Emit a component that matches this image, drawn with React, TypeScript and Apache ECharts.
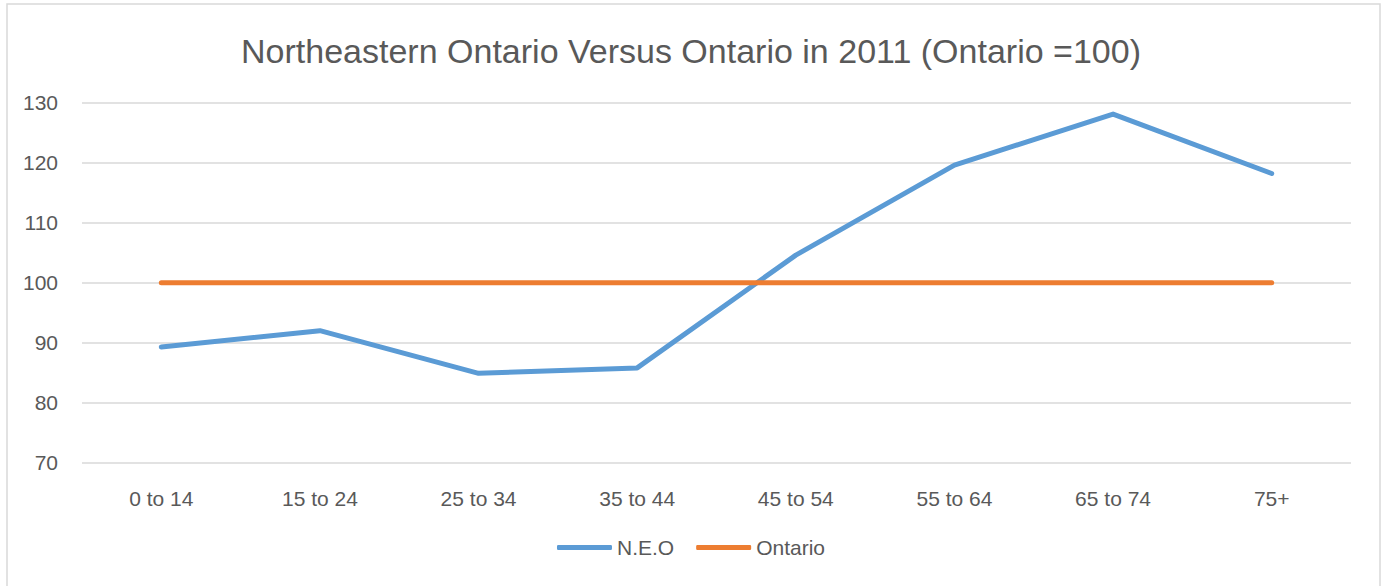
import React, { useEffect, useRef } from "react";
import * as echarts from "echarts";

const categories = ["0 to 14", "15 to 24", "25 to 34", "35 to 44", "45 to 54", "55 to 64", "65 to 74", "75+"];
const neoValues = [89.3, 92.0, 84.9, 85.8, 104.6, 119.6, 128.1, 118.2];
const ontarioValues = [100, 100, 100, 100, 100, 100, 100, 100];
const seriesNames = ["N.E.O", "Ontario"];
const titleText = "Northeastern Ontario Versus Ontario in 2011 (Ontario =100)";

export default function App() {
  const ref = useRef<HTMLDivElement>(null);
  useEffect(() => {
    document.body.style.margin = "0";
    if (!ref.current) return;
    const chart = echarts.init(ref.current, null, { renderer: "svg" });
    const font = "'Liberation Sans', Arial, sans-serif";
    const textColor = "#595959";
    chart.setOption({
      animation: false,
      backgroundColor: "#ffffff",
      textStyle: { fontFamily: font },
      title: {
        text: titleText,
        left: "center",
        top: 29,
        textStyle: { fontFamily: font, fontSize: 34, fontWeight: "normal", color: textColor },
      },
      graphic: [
        {
          type: "rect",
          shape: { x: 7, y: 4, width: 1373, height: 590 },
          style: { fill: "none", stroke: "#d9d9d9", lineWidth: 1.5 },
          silent: true,
        },
      ],
      grid: { left: 82, right: 31, top: 102.7, bottom: 123.3, containLabel: false },
      legend: {
        data: seriesNames,
        bottom: 23,
        left: "center",
        icon: "roundRect",
        itemWidth: 55,
        itemHeight: 5,
        itemGap: 22,
        textStyle: { fontFamily: font, fontSize: 21, color: textColor },
      },
      xAxis: {
        type: "category",
        data: categories,
        boundaryGap: true,
        axisLine: { show: false },
        axisTick: { show: false },
        axisLabel: { fontFamily: font, fontSize: 21, color: textColor, margin: 25 },
      },
      yAxis: {
        type: "value",
        min: 70,
        max: 130,
        interval: 10,
        axisLine: { show: false },
        axisTick: { show: false },
        axisLabel: { fontFamily: font, fontSize: 21, color: textColor, margin: 24 },
        splitLine: { lineStyle: { color: "#d9d9d9", width: 1.5 } },
      },
      series: [
        {
          name: seriesNames[0],
          type: "line",
          data: neoValues,
          symbol: "none",
          lineStyle: { color: "#5B9BD5", width: 5, cap: "round", join: "round" },
          itemStyle: { color: "#5B9BD5" },
        },
        {
          name: seriesNames[1],
          type: "line",
          data: ontarioValues,
          symbol: "none",
          lineStyle: { color: "#ED7D31", width: 5, cap: "round", join: "round" },
          itemStyle: { color: "#ED7D31" },
        },
      ],
    });
    return () => chart.dispose();
  }, []);
  return <div ref={ref} style={{ width: 1382, height: 586 }} />;
}
